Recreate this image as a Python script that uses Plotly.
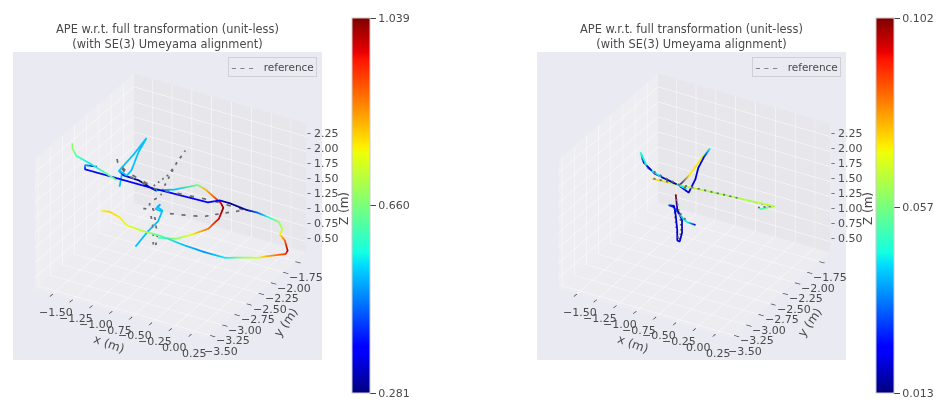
import plotly.graph_objects as go

# ---------- left panel: estimate (None separates track pieces) ----------
left_x = [-1.51,-1.66,-1.66,-0.80,-0.11,0.04,0.17,0.38,0.39,0.405,0.42,0.40,0.37,0.37,0.405,0.38,0.185,0.11,-0.05,-0.205,-0.40,-0.54,-0.77,-0.94,-1.07,-1.16,-1.29,-1.39,None,
          -1.47,-1.44,-1.48,-1.29,-1.13,-1.23,-1.32,-1.38,-1.47,-1.42,-1.23,-1.07,-1.00,None,
          -1.695,-1.695,-1.645,-1.48,-1.27,-1.14,None,
          -0.95,-0.72,-0.42,-0.32,-0.22,-0.13,-0.10,-0.155,-0.29,-0.51,-0.695,-0.92,None,
          -1.085,-0.93,-0.80,-0.745,-0.81,-0.77,-0.83,-0.745]
left_y = [-2.65,-2.65,-2.65,-2.65,-2.65,-2.65,-2.65,-2.65,-2.45,-2.25,-2.05,-1.95,-1.95,-1.85,-1.85,-1.85,-1.95,-1.95,-2.05,-2.15,-2.25,-2.45,-2.55,-2.65,-2.75,-2.75,-2.75,-2.75,None,
          -2.25,-2.25,-2.25,-2.25,-2.25,-2.25,-2.25,-2.25,-2.25,-2.25,-2.25,-2.25,-2.25,None,
          -2.85,-2.85,-2.85,-2.85,-2.85,-2.85,None,
          -2.35,-2.35,-2.35,-2.35,-2.35,-2.35,-2.35,-2.35,-2.35,-2.35,-2.35,-2.35,None,
          -2.55,-2.55,-2.55,-2.55,-2.55,-2.55,-2.55,-2.55]
left_z = [1.79,1.76,1.69,1.70,1.73,1.82,1.82,1.79,1.61,1.40,1.18,0.985,0.886,0.715,0.56,0.495,0.45,0.40,0.41,0.42,0.51,0.715,0.85,0.94,1.05,1.15,1.195,1.17,None,
          1.19,1.41,1.45,1.80,2.13,1.86,1.52,1.41,1.46,1.40,1.39,1.32,1.30,None,
          2.25,2.16,2.06,2.00,1.91,1.85,None,
          1.40,1.50,1.69,1.65,1.57,1.50,1.43,1.23,1.01,0.825,0.69,0.62,None,
          0.55,0.86,1.08,1.28,1.32,1.375,1.275,1.26]
left_ape = [0.31,0.50,0.38,0.37,0.37,0.35,0.29,0.30,0.45,0.58,0.68,0.72,0.78,0.90,1.00,0.93,0.82,0.75,0.68,0.55,0.48,0.52,0.62,0.72,0.76,0.78,0.80,0.77,None,
            0.52,0.52,0.52,0.52,0.52,0.52,0.52,0.52,0.52,0.34,0.30,0.29,0.30,None,
            0.66,0.68,0.62,0.55,0.62,0.65,None,
            0.50,0.52,0.66,0.82,0.90,0.98,1.03,0.98,0.88,0.76,0.68,0.60,None,
            0.52,0.52,0.52,0.52,0.52,0.50,0.52,0.52]

# ---------- left panel: reference ----------
left_ref_x = [-0.59,-0.425,-0.17,0.08,0.355,-0.085,-0.80,-1.07,-1.185,-1.20,-1.185,-1.07,-0.745,-0.85,-0.71,-0.64,-0.75,-0.90,-0.77,-0.90,-0.92,-0.985,-0.86,-0.83,-0.81,-0.83,-0.86,-0.86,-0.90]
left_ref_y = [-2.65,-2.65,-2.65,-2.65,-2.65,-2.65,-2.65,-2.75,-2.75,-2.75,-2.75,-2.75,-2.75,-2.25,-2.25,-2.25,-2.25,-2.25,-2.55,-2.55,-2.55,-2.55,-2.55,-2.55,-2.55,-2.55,-2.55,-2.55,-2.55]
left_ref_z = [1.36,1.40,1.47,1.62,1.78,1.78,1.70,1.89,2.05,2.15,2.05,1.94,1.82,1.63,1.95,2.11,1.865,1.43,1.51,1.37,1.235,1.225,1.265,1.05,0.83,0.66,0.63,0.91,1.23]

# ---------- right panel: estimate ----------
right_x = [-1.20,-1.16,-1.02,-0.745,None,
           -1.20,-1.11,-0.92,-0.62,None,
           -1.115,-0.34,0.43,0.24,None,
           -1.02,-0.89,-0.74,-0.63,-0.71,-0.78,-0.815,-0.90,-1.02,None,
           -0.88,-0.86,-0.80,-0.80,-0.83,-0.86,-0.86,-0.88,-0.90,-0.97,-0.91,-0.78,-0.73,-0.63]
right_y = [-2.75,-2.75,-2.75,-2.75,None,
           -2.75,-2.75,-2.75,-2.75,None,
           -2.65,-2.65,-2.65,-2.65,None,
           -2.25,-2.25,-2.25,-2.25,-2.25,-2.25,-2.25,-2.25,-2.25,None,
           -2.55,-2.55,-2.55,-2.55,-2.55,-2.55,-2.55,-2.55,-2.55,-2.55,-2.55,-2.55,-2.55,-2.55]
right_z = [2.22,2.06,1.93,1.86,None,
           2.22,1.99,1.90,1.83,None,
           1.74,1.805,1.87,1.75,None,
           1.38,1.61,1.94,2.15,1.97,1.765,1.57,1.31,1.38,None,
           1.50,1.26,1.10,0.89,0.73,0.74,0.91,1.15,1.30,1.285,1.28,1.12,1.09,1.085]
right_ape = [0.047,0.020,0.020,0.016,None,
             0.047,0.045,0.045,0.045,None,
             0.073,0.062,0.064,0.050,None,
             0.020,0.072,0.072,0.045,0.025,0.020,0.020,0.020,0.020,None,
             0.100,0.020,0.020,0.018,0.020,0.020,0.020,0.020,0.020,0.030,0.020,0.045,0.045,0.020]

# ---------- right panel: reference ----------
right_ref_x = [-1.10,-0.34,0.40,0.22,None,-1.21,-1.12,-0.93,-0.63,None,-0.88,-0.82,-0.81,-0.84,-0.87,-0.90,-0.76,-0.71]
right_ref_y = [-2.65,-2.65,-2.65,-2.65,None,-2.75,-2.75,-2.75,-2.75,None,-2.55,-2.55,-2.55,-2.55,-2.55,-2.55,-2.55,-2.55]
right_ref_z = [1.75,1.81,1.86,1.77,None,2.18,2.00,1.92,1.84,None,1.48,1.12,0.91,0.75,0.90,1.30,1.13,1.10]

# ---------- axis labels / colour bar ticks ----------
x_ticks = [-1.50,-1.25,-1.00,-0.75,-0.50,-0.25,0.00,0.25]
y_ticks = [-3.50,-3.25,-3.00,-2.75,-2.50,-2.25,-2.00,-1.75]
z_ticks = [0.50,0.75,1.00,1.25,1.50,1.75,2.00,2.25]
x_range = [-1.73,0.44]
y_range = [-3.57,-1.53]
z_range = [0.32,2.47]
left_cbar = [0.281,0.660,1.039]
right_cbar = [0.013,0.057,0.102]
title_lines = "APE w.r.t. full transformation (unit-less)<br>(with SE(3) Umeyama alignment)"

W, H = 940, 402
FONT = "DejaVu Sans"
TXT = "#4a4a4a"
EYE = 2.0
BOX = 1.29
JET = [[0,"rgb(0,0,127)"],[0.11,"rgb(0,0,255)"],[0.125,"rgb(0,0,255)"],[0.34,"rgb(0,219,255)"],
       [0.375,"rgb(20,255,226)"],[0.64,"rgb(238,255,8)"],[0.66,"rgb(255,236,0)"],
       [0.89,"rgb(255,19,0)"],[0.91,"rgb(232,0,0)"],[1,"rgb(127,0,0)"]]


def fill(values, filler):
    return [filler if v is None else v for v in values]


def label(text):
    return "\u2212" + f"{abs(text):.2f}" if text < 0 else f"{text:.2f}"


def note(x, y, z, text, dx, dy, size=11, angle=0, color=TXT):
    return dict(x=x, y=y, z=z, text=text, showarrow=False, xshift=dx, yshift=dy, textangle=angle,
                xanchor="center", yanchor="middle", font=dict(family=FONT, size=size, color=color))


def axis(ticks, rng, pane, native_ticks=True):
    return dict(title=dict(text=""), range=rng, tickmode="array", tickvals=ticks,
                showticklabels=False, ticks="outside" if native_ticks else "", ticklen=6, tickwidth=1.5, tickcolor="#333333",
                showgrid=True, gridcolor="#ffffff", gridwidth=1,
                showbackground=True, backgroundcolor=pane,
                showline=False, zeroline=False, showspikes=False)


def scene(x0):
    xe, ye, ze = x_range, y_range, z_range
    notes = [note(v, ye[0], ze[0], label(v), 3, -19) for v in x_ticks]
    notes += [note(xe[1], v, ze[0], label(v), 11, -16) for v in y_ticks]
    notes += [note(xe[1], ye[1], v, label(v), 20, 3) for v in z_ticks]
    notes += [note(xe[1], ye[1], v, "\u2013", 3, 3, 8, 0, "#333333") for v in z_ticks]
    notes.append(note(-0.75, ye[0], ze[0], "x (m)", -3, -33, 12, 20))
    notes.append(note(xe[1], -2.55, ze[0], "y (m)", 30, -27, 12, -55))
    notes.append(note(xe[1], ye[1], 1.375, "Z (m)", 38, -20, 12, -90))
    return dict(domain=dict(x=[x0/W, (x0+309)/W], y=[1-360/H, 1-52/H]),
                bgcolor="#eaeaf2",
                xaxis=axis(x_ticks, x_range, "#eeeef2"),
                yaxis=axis(y_ticks, y_range, "#e6e6eb"),
                zaxis=axis(z_ticks, z_range, "#ececf1", False),
                aspectmode="manual", aspectratio=dict(x=BOX,y=BOX,z=0.75*BOX),
                annotations=notes,
                camera=dict(eye=dict(x=0.433*EYE-0.016,y=-0.75*EYE-0.009,z=0.5*EYE),
                            center=dict(x=-0.016,y=-0.009,z=0), up=dict(x=0,y=0,z=1),
                            projection=dict(type="orthographic")))


def cbar(x0, ticks):
    return dict(x=x0/W, xanchor="left", xpad=0, ypad=0, y=1-205.5/H, yanchor="middle",
                lenmode="pixels", len=375, thicknessmode="pixels", thickness=18,
                tickmode="array", tickvals=ticks, tickformat=".3f", ticks="outside", ticklen=6,
                tickcolor="#444444", tickfont=dict(family=FONT, size=11, color=TXT),
                outlinecolor="#cccccc", outlinewidth=1)


fig = go.Figure()
fig.add_trace(go.Scatter3d(x=left_ref_x,y=left_ref_y,z=left_ref_z,mode="lines",scene="scene",name="reference",showlegend=False,
                           line=dict(color="#6e6e6e",width=3.5,dash="dash"),hoverinfo="skip"))
fig.add_trace(go.Scatter3d(x=left_x,y=left_y,z=left_z,mode="lines",scene="scene",showlegend=False,
                           line=dict(color=fill(left_ape,0.5),coloraxis="coloraxis",width=3.5)))
fig.add_trace(go.Scatter3d(x=right_ref_x,y=right_ref_y,z=right_ref_z,mode="lines",scene="scene2",name="reference",showlegend=False,
                           line=dict(color="#6e6e6e",width=3.5,dash="dash"),hoverinfo="skip"))
fig.add_trace(go.Scatter3d(x=right_x,y=right_y,z=right_z,mode="lines",scene="scene2",showlegend=False,
                           line=dict(color=fill(right_ape,0.05),coloraxis="coloraxis2",width=3.5)))

annotations = [dict(text=title_lines,x=cx/W,y=1-20/H,xref="paper",yref="paper",xanchor="center",yanchor="top",
                    showarrow=False,font=dict(family=FONT,size=11.4,color=TXT),align="center")
               for cx in (167.5,691.5)]
annotations += [dict(text="<span style='color:#666666'>\u2013 \u2013 \u2013</span>   reference",
                     x=cx/W,y=1-67/H,xref="paper",yref="paper",xanchor="center",yanchor="middle",
                     showarrow=False,width=85,height=16,bgcolor="rgba(234,234,242,0.8)",bordercolor="#cfcfd6",borderwidth=1,
                     font=dict(family=FONT,size=10.5,color=TXT))
                for cx in (272.5,796.5)]

fig.update_layout(
    width=W, height=H, margin=dict(l=0,r=0,t=0,b=0), paper_bgcolor="#ffffff",
    scene=scene(13), scene2=scene(537),
    coloraxis=dict(colorscale=JET,cmin=left_cbar[0],cmax=left_cbar[2],colorbar=cbar(352,left_cbar)),
    coloraxis2=dict(colorscale=JET,cmin=right_cbar[0],cmax=right_cbar[2],colorbar=cbar(876,right_cbar)),
    annotations=annotations,
)
fig.write_html("out.html", config=dict(displayModeBar=False),
               post_script="document.body.style.margin='0';document.body.style.overflow='hidden';")
